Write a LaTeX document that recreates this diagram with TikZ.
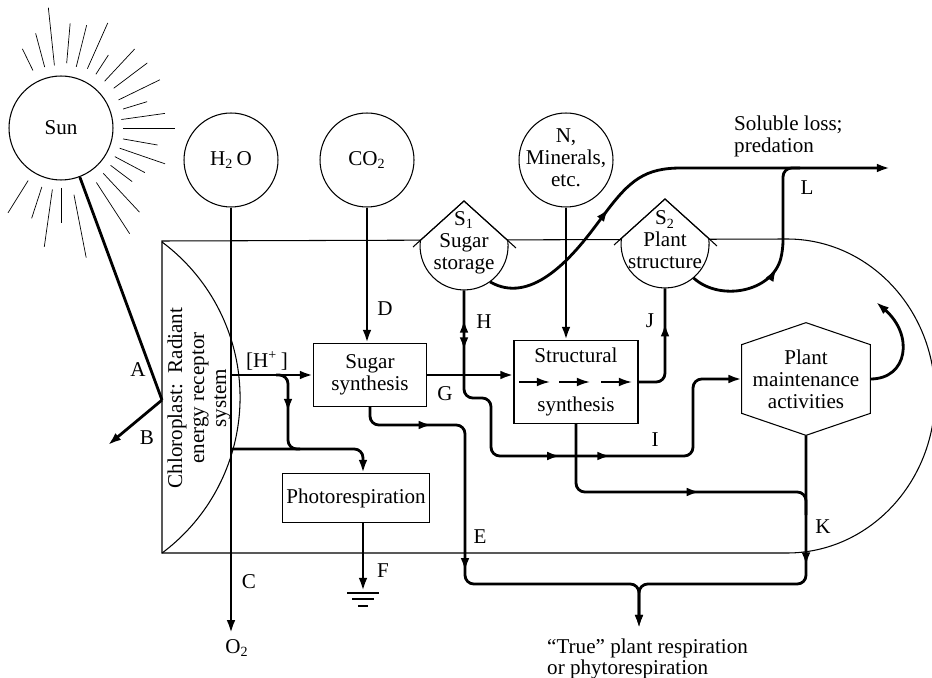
\documentclass[tikz,border=0pt]{standalone}
\usepackage{fontspec}
\setmainfont{Liberation Serif}
\usepackage{tikz}
\usetikzlibrary{calc}
\usetikzlibrary{arrows.meta}
\usetikzlibrary{decorations.markings}

\begin{document}
\begin{tikzpicture}[x=0.02cm,y=-0.02cm,font=\fontsize{12}{12.5}\selectfont]
		\tikzset{>={Latex[length=7.5pt,width=5pt]}}
		\tikzset{flow/.style={line width=1.6pt,rounded corners=5pt}}
		\tikzset{pool/.style={draw,circle,minimum size=1.88cm,inner sep=0pt,line width=0.6pt}}
		\tikzset{tank/.style={circle,minimum size=1.76cm,inner sep=0pt}}
		\tikzset{box/.style={draw,rectangle,line width=0.6pt,align=center,inner sep=2pt}}
		\tikzset{arrowat/.style={postaction={decorate,decoration={markings,mark=at position #1 with {\arrow{>}}}}}}
		\tikzset{backat/.style={postaction={decorate,decoration={markings,mark=at position #1 with {\arrowreversed{>}}}}}}
		\useasboundingbox (0,0) rectangle (932,678);

		%Plant (enclosure)
		\draw[line width=0.6pt] (162,241) -- (787,239) arc[start angle=-90,end angle=90,x radius=148,y radius=157] -- (162,553) -- cycle;
		\draw[line width=0.6pt] (162,242) arc[start angle=-53.3,end angle=53.3,radius=194];
		\node[rotate=90,align=center] (chl) at (199,398) {Chloroplast:\ \ Radiant\\energy receptor\\system};

		%Sun
		\node[pool,minimum size=2.08cm] (sun) at (61,128) {Sun};
		\foreach \a/\ri/\ro in {-116/64/88,-105/63/98,-96/63/121,-85/65/105,-76/63/106,-66/65/115,-57/64/87,-47/64/108,-37/66/108,-26/64/110,-17/65/90,-8/61/105,0/62/114,10/63/98,19/62/110,28/61/95,37/62/89,47/62/115,57/65/126,79/68/132,90/60/95,98/62/120,108/62/95,122/62/100}
			\draw[line width=0.4pt] ($(sun.center)+(\a:\ri)$) -- ($(sun.center)+(\a:\ro)$);

		%Sources
		\node[pool] (h2o) at (231,160) {H\textsubscript{2}\,O};
		\node[pool] (co2) at (367,160) {CO\textsubscript{2}};
		\node[pool] (nmin) at (566,160) {};
		\node[align=center] (nmint) at (566,158) {N,\\Minerals,\\etc.};

		%Storages
		\node[tank] (s1) at (464,246) {};
		\node[tank] (s2) at (665,244) {};
		\foreach \s in {s1,s2} {
			\filldraw[fill=white,line width=0.6pt] ($(\s)+(-43.7,-5.6)$) -- ($(\s)+(0,-45)$) -- ($(\s)+(43.7,-5.6)$) arc[start angle=-7.3,end angle=187.3,radius=44] -- cycle;
			\draw[line width=0.6pt] ($(\s)+(-51,1)$) -- ($(\s)+(0,-45)$) -- ($(\s)+(52,2)$);
		}
		\node[align=center] (s1t) at (464,243) {S\textsubscript{1}\\Sugar\\storage};
		\node[align=center] (s2t) at (665,240) {S\textsubscript{2}\\Plant\\structure};

		%Processes
		\node[box,minimum width=2.26cm,minimum height=1.26cm] (sug) at (370,375) {Sugar\\synthesis};
		\node[box,minimum width=2.94cm,minimum height=0.98cm] (photo) at (356,498) {Photorespiration};
		\node[box,minimum width=2.48cm,minimum height=1.66cm] (struct) at (576,382) {Structural\\[15pt]synthesis};
		\foreach \x in {519,559,601}
			\draw[line width=1pt,->] (\x,382) -- ++(31,0);
		\node[align=center,minimum width=2.56cm,minimum height=1.36cm,inner sep=0pt] (maint) at (806,379) {Plant\\maintenance\\activities};
		\draw[line width=0.6pt] (maint.north west) -- ($(maint.north)+(0,-22)$) -- (maint.north east) -- (maint.south east) -- ($(maint.south)+(0,22)$) coordinate (mbot) -- (maint.south west) -- cycle;

		\coordinate (ab) at (162,400);
		\coordinate (bout) at (108,445);
		\coordinate (pr) at (231,449);
		\coordinate (gnd) at (363,591);
		\coordinate (rsp) at (639,628);
		\coordinate (loss) at (890,168);
		\coordinate (mloop) at (876,302);

		%Flechas
		\draw[line width=1.6pt] (sun.-69) -- (ab);
		\draw[line width=1.6pt,->] (ab) -- (bout);
		\node (o2) at (237,648) {O\textsubscript{2}};
		\draw[flow,->] (h2o.south) -- (h2o.south |- o2.north);
		\draw[flow,->] (h2o.south |- sug.west) -- (sug.west);
		\draw[flow,arrowat=0.5] (276,375) -- (288,375) -- (288,449) -- (300,449);
		\draw[flow,->] (pr) -| (photo.north -| gnd);
		\draw[flow,->] (photo.south -| gnd) -- (gnd);
		\draw[line width=1.2pt] ($(gnd)+(-16,2)$) -- ($(gnd)+(16,2)$)
			($(gnd)+(-11,8)$) -- ($(gnd)+(11,8)$)
			($(gnd)+(-5,15)$) -- ($(gnd)+(5,15)$);
		\draw[flow,->] (co2.south) -- (co2.south |- sug.north);
		\draw[flow,->] (sug.east) -- (sug.east -| struct.west);
		\draw[flow,->] (nmin.south) -- (nmin.south |- struct.north);
		\draw[flow,->,backat=0.058,arrowat=0.12,arrowat=0.5,arrowat=0.6] (s1.south) -- (464,398) -- (491,398) -- (491,456) -- (693,456) |- (maint.west);
		\draw[flow,->,arrowat=0.16,arrowat=0.53] (sug.south) -- (370,425) -- (465,425) -- (465,584) -| (rsp);
		\draw[flow,->,arrowat=0.37] (mbot) -- (806,584) -| (rsp);
		\draw[flow,arrowat=0.6] (struct.south) |- (806,492) -- (806,515);
		\draw[flow,arrowat=0.7] (struct.east) -| (s2.south);
		\draw[flow,->,arrowat=0.34] (s1.-54) .. controls (530,305) and (570,260) .. (600,220) .. controls (630,180) and (645,168) .. (690,168) -- (loss);
		\draw[flow,arrowat=0.45] (s2.-50) .. controls (720,302) and (772,292) .. (783,250) -- (783,168) -- (800,168);
		\draw[flow,->] (maint.east) .. controls (908,379) and (914,335) .. (mloop);

		%Labels
		\node (hplus) at (267,361) {[H\textsuperscript{+}\,]};
		\node (la) at (138,370) {A};
		\node (lb) at (147,438) {B};
		\node (lc) at (249,582) {C};
		\node (ld) at (385,309) {D};
		\node (le) at (480,537) {E};
		\node (lf) at (383,571) {F};
		\node (lg) at (445,394) {G};
		\node (lh) at (484,322) {H};
		\node (li) at (655,440) {I};
		\node (lj) at (650,321) {J};
		\node (lk) at (823,527) {K};
		\node (ll) at (807,188) {L};
		\node[align=left,anchor=west] (sol) at (728,136) {Soluble loss;\\predation};
		\node[align=left,anchor=north west,font=\fontsize{12}{11.5}\selectfont] (truer) at (541,633) {“True” plant respiration\\or phytorespiration};
	\end{tikzpicture}
\end{document}
